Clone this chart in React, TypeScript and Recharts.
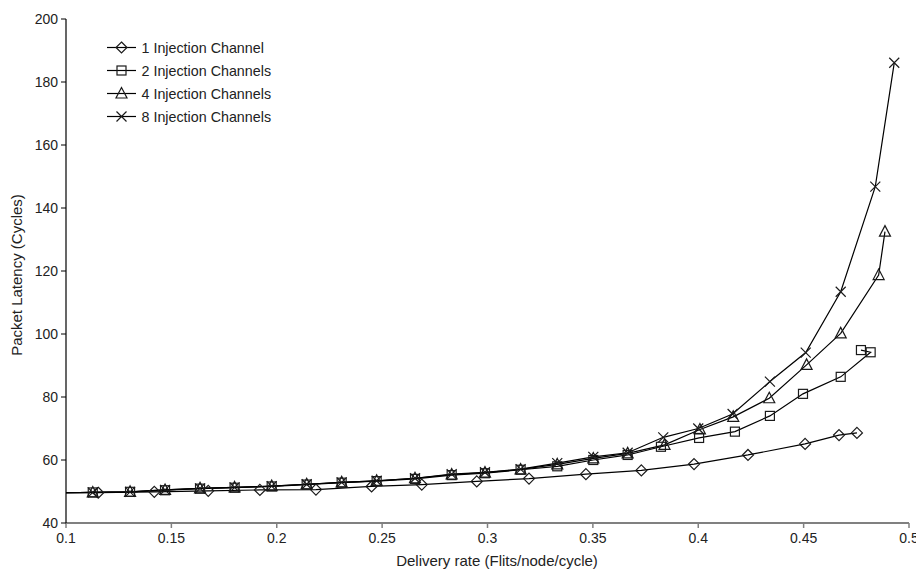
import React from "react";
import { LineChart, Line, XAxis, YAxis, Label } from "recharts";

// ---- data ----
const xTicks = [0.1, 0.15, 0.2, 0.25, 0.3, 0.35, 0.4, 0.45, 0.5];
const yTicks = [40, 60, 80, 100, 120, 140, 160, 180, 200];

const seriesNames = [
  "1 Injection Channel",
  "2 Injection Channels",
  "4 Injection Channels",
  "8 Injection Channels",
];

const x1 = [0.1, 0.1153, 0.1419, 0.1675, 0.192, 0.2186, 0.245, 0.2688, 0.2949, 0.3197, 0.3467, 0.3730, 0.398, 0.4236, 0.4507, 0.4668, 0.4753];
const y1 = [49.6, 49.6, 49.9, 50.2, 50.5, 50.6, 51.6, 52.2, 53.2, 54.1, 55.5, 56.7, 58.7, 61.6, 65.1, 67.9, 68.6];

const x2 = [0.1, 0.1127, 0.1304, 0.147, 0.1636, 0.18, 0.1976, 0.2142, 0.2308, 0.2474, 0.2656, 0.283, 0.2988, 0.3157, 0.3331, 0.3502, 0.3665, 0.3823, 0.4004, 0.4174, 0.434, 0.4497, 0.4676, 0.4818, 0.4772];
const y2 = [49.6, 49.7, 49.9, 50.4, 50.9, 51.2, 51.6, 52.2, 52.8, 53.3, 54.0, 55.2, 55.8, 56.9, 58.0, 60.0, 61.6, 64.2, 67.0, 69.0, 74.0, 81.0, 86.4, 94.2, 94.9];

const x4 = [0.1, 0.1127, 0.1304, 0.147, 0.1636, 0.18, 0.1976, 0.2142, 0.2308, 0.2474, 0.2656, 0.283, 0.2988, 0.3157, 0.3331, 0.3502, 0.3665, 0.384, 0.4008, 0.4166, 0.4337, 0.4514, 0.4676, 0.4856, 0.4886];
const y4 = [49.6, 49.7, 49.9, 50.5, 51.0, 51.3, 51.7, 52.3, 52.9, 53.4, 54.2, 55.4, 56.0, 57.0, 58.6, 60.5, 62.1, 64.8, 69.7, 73.7, 79.6, 90.2, 100.2, 118.7, 132.5];

const x8 = [0.1, 0.1127, 0.1304, 0.147, 0.1636, 0.18, 0.1976, 0.2142, 0.2308, 0.2474, 0.2656, 0.283, 0.2988, 0.3157, 0.3331, 0.3502, 0.3665, 0.3834, 0.400, 0.4163, 0.434, 0.451, 0.4676, 0.484, 0.493];
const y8 = [49.6, 49.7, 49.9, 50.5, 51.0, 51.3, 51.7, 52.3, 52.9, 53.4, 54.2, 55.5, 56.1, 57.1, 59.0, 61.0, 62.3, 67.2, 70.0, 74.6, 84.9, 94.1, 113.4, 146.8, 186.1];

const toData = (xs: number[], ys: number[]) => xs.map((x, i) => ({ x, y: ys[i] }));
const d1 = toData(x1, y1);
const d2 = toData(x2, y2);
const d4 = toData(x4, y4);
const d8 = toData(x8, y8);

const FONT = "'Liberation Sans', Arial, sans-serif";
const MSTROKE = "#1a1a1a";
const TEXT = "#222";

type Shape = "diamond" | "square" | "triangle" | "cross";

function markerPath(shape: Shape, cx: number, cy: number): JSX.Element {
  const common = { fill: "none", stroke: MSTROKE, strokeWidth: 1.2 };
  if (shape === "diamond") {
    const r = 5.5;
    return <path d={`M${cx},${cy - r}L${cx + r},${cy}L${cx},${cy + r}L${cx - r},${cy}Z`} {...common} />;
  }
  if (shape === "square") {
    const r = 4.5;
    return <rect x={cx - r} y={cy - r} width={2 * r} height={2 * r} {...common} />;
  }
  if (shape === "triangle") {
    const r = 5.5;
    return <path d={`M${cx},${cy - r - 0.5}L${cx + r},${cy + r - 1}L${cx - r},${cy + r - 1}Z`} {...common} />;
  }
  const r = 5;
  return <path d={`M${cx - r},${cy - r}L${cx + r},${cy + r}M${cx - r},${cy + r}L${cx + r},${cy - r}`} {...common} />;
}

const makeDot = (shape: Shape) => (props: any) => {
  const { cx, cy, payload, index } = props;
  const k = `${shape}-${index}`;
  if (payload == null || payload.x <= 0.1 || cx == null || cy == null) return <g key={k} />;
  return <g key={k}>{markerPath(shape, cx, cy)}</g>;
};

const shapes: Shape[] = ["diamond", "square", "triangle", "cross"];

function LegendBox() {
  const rowY = [11.5, 34.5, 57.5, 80.5];
  return (
    <svg
      width={220}
      height={95}
      style={{ position: "absolute", left: 94, top: 28, overflow: "visible" }}
    >
      {seriesNames.map((n, i) => (
        <g key={n}>
          <line x1={5} x2={34} y1={rowY[i]} y2={rowY[i]} stroke="#000" strokeWidth={1.2} />
          {markerPath(shapes[i], 19.5, rowY[i])}
          <text x={39.5} y={rowY[i]} dominantBaseline="central" fontSize={14.3} fontFamily={FONT} fill={TEXT}>
            {n}
          </text>
        </g>
      ))}
    </svg>
  );
}

const fmt = (v: number) => String(parseFloat(v.toFixed(2)));

export default function App() {
  return (
    <div style={{ position: "relative", width: 916, height: 562, fontFamily: FONT }}>
      <LineChart
        width={916}
        height={562}
        margin={{ top: 11, right: 15, left: 0, bottom: 0 }}
      >
        <XAxis
          type="number"
          dataKey="x"
          domain={[0.1, 0.5]}
          ticks={xTicks}
          tickFormatter={fmt}
          allowDataOverflow
          height={47}
          stroke="#808080"
          axisLine={{ stroke: "#808080", strokeWidth: 2 }}
          tickLine={{ stroke: "#808080", strokeWidth: 1.5 }}
          tickSize={5}
          tickMargin={5}
          tick={{ fill: TEXT, fontSize: 14, fontFamily: FONT }}
          interval={0}
        >
          <Label
            content={() => (
              <text x={489} y={558} textAnchor="middle" fontSize={15} fontFamily={FONT} fill={TEXT}>
                Delivery rate (Flits/node/cycle)
              </text>
            )}
          />
        </XAxis>
        <YAxis
          type="number"
          dataKey="y"
          domain={[40, 200]}
          ticks={yTicks}
          allowDataOverflow
          width={58}
          axisLine={{ stroke: "#000", strokeWidth: 1.2 }}
          tickLine={{ stroke: "#000", strokeWidth: 1 }}
          tickSize={5}
          tickMargin={3}
          tick={{ fill: TEXT, fontSize: 14, fontFamily: FONT }}
          interval={0}
        >
          <Label
            content={() => (
              <text
                x={8}
                y={267}
                transform="rotate(-90 8 267)"
                textAnchor="middle"
                dominantBaseline="central"
                fontSize={15}
                fontFamily={FONT}
                fill={TEXT}
              >
                Packet Latency (Cycles)
              </text>
            )}
          />
        </YAxis>
        <Line data={d1} dataKey="y" stroke="#000" strokeWidth={1.2} dot={makeDot("diamond")} activeDot={false} isAnimationActive={false} />
        <Line data={d2} dataKey="y" stroke="#000" strokeWidth={1.2} dot={makeDot("square")} activeDot={false} isAnimationActive={false} />
        <Line data={d4} dataKey="y" stroke="#000" strokeWidth={1.2} dot={makeDot("triangle")} activeDot={false} isAnimationActive={false} />
        <Line data={d8} dataKey="y" stroke="#000" strokeWidth={1.2} dot={makeDot("cross")} activeDot={false} isAnimationActive={false} />
      </LineChart>
      <LegendBox />
    </div>
  );
}
